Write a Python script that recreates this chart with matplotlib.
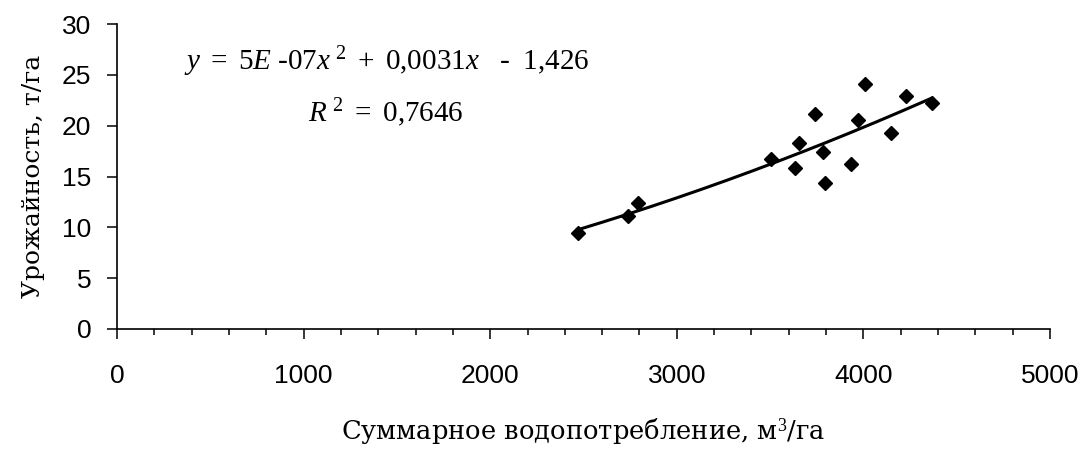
import matplotlib
matplotlib.use('Agg')
import matplotlib.pyplot as plt
from matplotlib.ticker import MultipleLocator
import numpy as np

# water consumption (m3/ha) and yield (t/ha)
water_use = [2468, 2740, 2790, 3503, 3633, 3655, 3741, 3782, 3794, 3932, 3970, 4009, 4148, 4230, 4365]
crop_yield = [9.4, 11.1, 12.4, 16.7, 15.8, 18.3, 21.1, 17.4, 14.4, 16.2, 20.6, 24.1, 19.3, 22.9, 22.2]

eq_line = r'$y\ =\ 5E\ \text{-07}x^{\ 2}\ +\ \mathrm{0{,}0031}x\ \ \ \text{-}\ \ \mathrm{1{,}426}$'
r2_line = r'$R^{\ 2}\ =\ \mathrm{0{,}7646}$'

plt.rcParams['mathtext.fontset'] = 'custom'
plt.rcParams['mathtext.rm'] = 'Liberation Serif'
plt.rcParams['mathtext.it'] = 'Liberation Serif:italic'

fig = plt.figure(figsize=(10.8, 4.57), dpi=100)
ax = fig.add_axes([117/1080, 1 - 329/457, 933/1080, 305/457])

ax.plot(water_use, crop_yield, 'D', color='black', markersize=7, zorder=3)

# polynomial trendline (2nd order), as in the original
coef = np.polyfit(water_use, crop_yield, 2)
xs = np.linspace(min(water_use), max(water_use), 200)
ax.plot(xs, np.polyval(coef, xs), color='black', linewidth=2.2)

ax.set_xlim(0, 5000)
ax.set_ylim(0, 30)
ax.xaxis.set_major_locator(MultipleLocator(1000))
ax.xaxis.set_minor_locator(MultipleLocator(200))
ax.yaxis.set_major_locator(MultipleLocator(5))

for side in ['top', 'right']:
    ax.spines[side].set_visible(False)
for side in ['left', 'bottom']:
    ax.spines[side].set_linewidth(1.2)

ax.tick_params(axis='x', which='major', direction='out', length=7.5, width=1.1,
               pad=18, labelsize=19)
ax.tick_params(axis='x', which='minor', direction='out', length=4.5, width=1.1)
ax.tick_params(axis='y', which='major', direction='out', length=7.5, width=1.1,
               pad=11, labelsize=19)
for lbl in ax.get_xticklabels() + ax.get_yticklabels():
    lbl.set_family('Liberation Sans')

ax.set_ylabel('Урожайность, т/га', family='DejaVu Serif', fontsize=18, labelpad=12)
ax.set_xlabel('Суммарное водопотребление, м$^3$/га', family='DejaVu Serif',
              fontsize=18.5, labelpad=20)

fig.text(387/1080, 1 - 70/457, eq_line, ha='center', va='baseline', fontsize=21)
fig.text(386/1080, 1 - 122/457, r2_line, ha='center', va='baseline', fontsize=21)

fig.savefig('out.png', dpi=100)
